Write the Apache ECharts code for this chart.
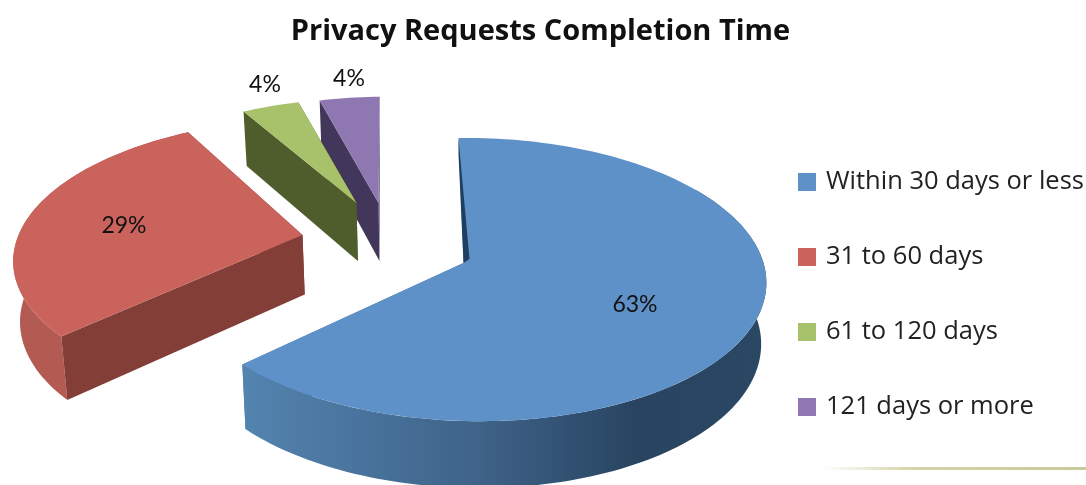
<!DOCTYPE html>
<html>
<head>
<meta charset="utf-8">
<style>
html, body { margin: 0; padding: 0; background: #fff; }
#charts { width: 1086px; height: 485px; }
</style>
<script src="https://cdn.jsdelivr.net/npm/echarts@6/dist/echarts.min.js"></script>
</head>
<body>
<div id="charts"></div>
<script>
var categories = ['Within 30 days or less', '31 to 60 days', '61 to 120 days', '121 days or more'];
var percentValues = [63, 29, 4, 4];

// how the picture looks, one entry per slice
var topColors = ['#5f91c9', '#c9635c', '#a7c26b', '#8f78b1'];
var wallColors = ['#1f3f60', '#823e37', '#4f5c2b', '#43365b'];
var rimColors = ['#3d6088', '#b35a52', '#4f5c2b', '#43365b'];
var explodeX = [0, -161, -107, -85];
var explodeY = [0, -28, -60, -60];
var scaleX = [1, 1.005, 0.9, 0.93];
var scaleY = [1, 0.97, 0.835, 0.85];
var slicePersp = [0.117, 0.16, 0.117, 0.117];
var sliceShear = [-5.6, 10, 0, 1.5];
var labelPos = [[635, 305], [124, 226], [265, 85], [349, 79]];
var drawOrder = [3, 4, 2, 1]; // z per slice, green sits over purple

var cx = 463.5, cy = 263, rx = 291, ry = 139.6, skewX = 0.03;
var vanishX = 440, vanishRate = 0.016;

var myChart = echarts.init(document.getElementById('charts'));

function project(i, angle) {
    var X = Math.sin(angle), Y = Math.cos(angle);
    var d = 1 + slicePersp[i] * Y - skewX * X;
    return [
        cx + explodeX[i] + scaleX[i] * (rx * X + sliceShear[i] * Y) / d,
        cy + explodeY[i] - scaleY[i] * ry * Y / d
    ];
}

function drop(p) {
    var depth = 50 + 0.04 * p[1];
    return [p[0] + (vanishX - p[0]) * vanishRate, p[1] + depth];
}

function arcPoints(i, a0, a1) {
    var pts = [], steps = Math.max(8, Math.round((a1 - a0) * 40));
    for (var s = 0; s <= steps; s++) {
        pts.push(project(i, a0 + (a1 - a0) * s / steps));
    }
    return pts;
}

function poly(points, fill, z2) {
    return { type: 'polygon', z2: z2, shape: { points: points }, style: { fill: fill } };
}

function renderSlice(i) {
    return function () {
        var total = percentValues.reduce(function (a, b) { return a + b; }, 0);
        var before = 0;
        for (var k = 0; k < i; k++) before += percentValues[k];
        var a0 = before / total * Math.PI * 2;
        var a1 = (before + percentValues[i]) / total * Math.PI * 2;
        var z = drawOrder[i] * 10;

        var apex = [cx + explodeX[i], cy + explodeY[i]];
        var arc = arcPoints(i, a0, a1);
        var first = arc[0], last = arc[arc.length - 1];

        var rimFill = rimColors[i];
        if (i === 0) {
            rimFill = new echarts.graphic.LinearGradient(241, 0, 767, 0, [
                { offset: 0, color: '#5384b0' },
                { offset: 0.45, color: '#3f6389' },
                { offset: 0.75, color: '#284461' },
                { offset: 1, color: '#2a4763' }
            ], true);
        }

        var children = [];
        if (i !== 0) {
            children.push(poly([apex, first, drop(first), drop(apex)], wallColors[i], z + 1));
        }
        if (i < 2) {
            // only the part of the rim that faces us, else it pokes out at the notch
            var rim = arcPoints(i, i === 0 ? Math.max(a0, 1) : a0, a1);
            children.push(poly(rim.concat(rim.map(drop).reverse()), rimFill, z));
            children.push(poly([apex, last, drop(last), drop(apex)], i === 0 ? rimFill : wallColors[i], z + 1));
        } else {
            // the far wall of green and purple hides behind their top face
            children.push(poly([apex, last, drop(apex)], wallColors[i], z));
        }
        children.push(poly([apex].concat(arc), topColors[i], z + 2));
        if (i === 0) {
            // thin dark edge along the notch of the big slice
            children.push(poly([first, [apex[0] + 6, apex[1] - 4], apex, [first[0], first[1] + 16]], wallColors[0], z + 3));
        }
        children.push({
            type: 'text', z2: 100,
            style: {
                x: labelPos[i][0], y: labelPos[i][1],
                text: percentValues[i] + '%',
                fill: '#111', align: 'center', verticalAlign: 'middle',
                font: '23px Lato'
            }
        });
        return { type: 'group', children: children };
    };
}

var seriesList = categories.map(function (name, i) {
    return {
        type: 'custom',
        name: name,
        coordinateSystem: 'none',
        silent: true,
        animation: false,
        itemStyle: { color: topColors[i] },
        data: [[percentValues[i]]],
        renderItem: renderSlice(i)
    };
});

myChart.setOption({
    animation: false,
    backgroundColor: '#fff',
    title: {
        text: 'Privacy Requests Completion Time',
        left: 535.5, top: 12, textAlign: 'center',
        textStyle: { fontFamily: 'Open Sans', fontWeight: 'bold', fontSize: 29, color: '#111' }
    },
    legend: {
        orient: 'vertical',
        left: 793, top: 164,
        icon: 'rect',
        itemWidth: 18, itemHeight: 18, itemGap: 49,
        data: categories,
        textStyle: { fontFamily: 'Open Sans', fontSize: 25.5, color: '#222', padding: [0, 0, 3, 5] }
    },
    graphic: [{
        type: 'rect',
        silent: true,
        shape: { x: 822, y: 467, width: 264, height: 3 },
        style: {
            fill: new echarts.graphic.LinearGradient(0, 0, 1, 0, [
                { offset: 0, color: '#ffffff' },
                { offset: 0.35, color: '#d2d3a8' },
                { offset: 1, color: '#c9ca9b' }
            ])
        }
    }],
    series: seriesList
});
</script>
</body>
</html>
